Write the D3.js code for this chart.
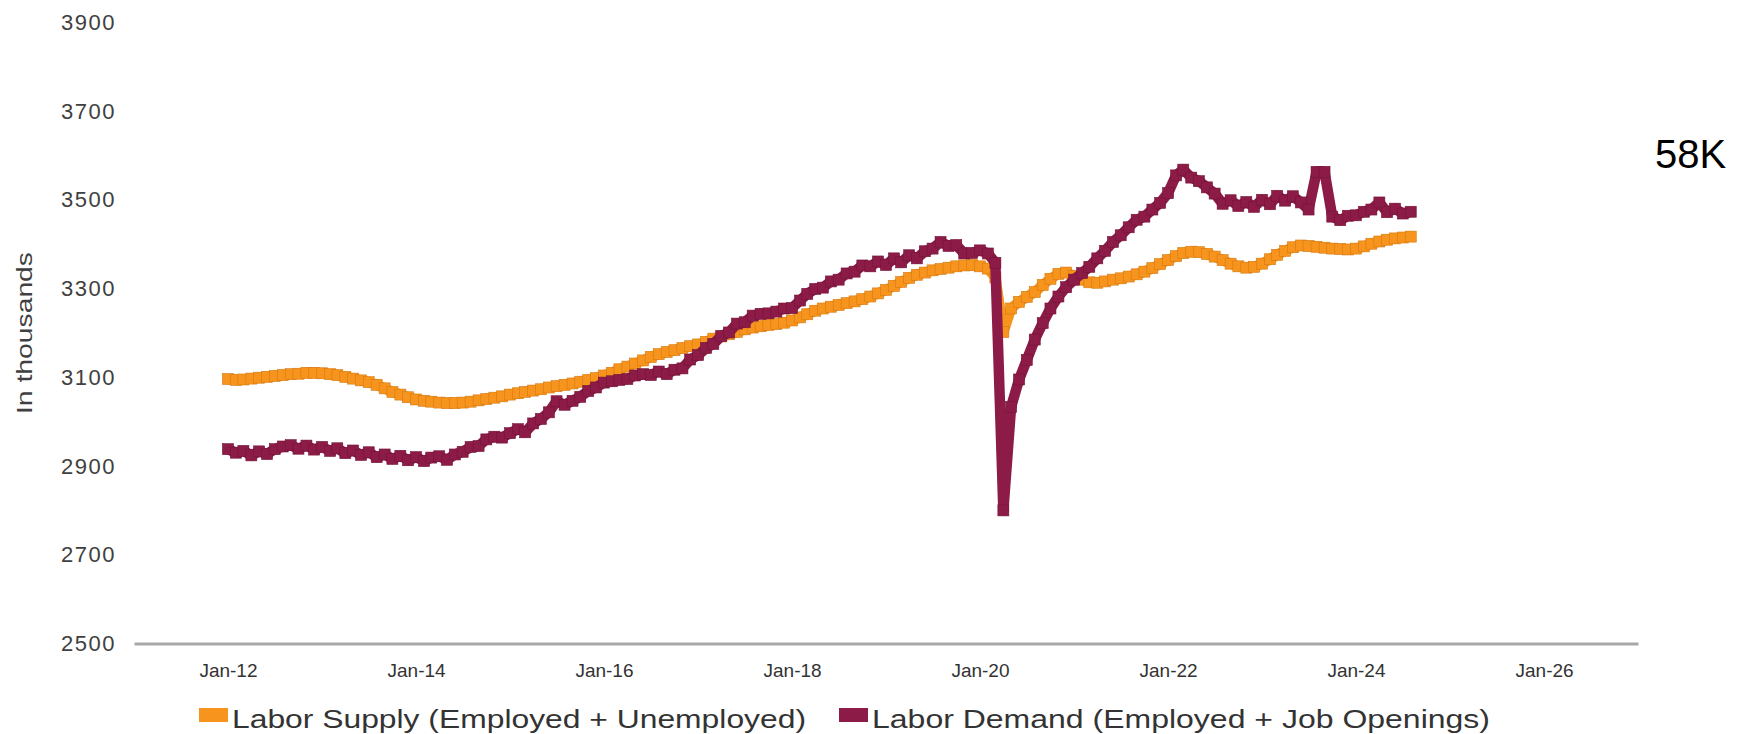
<!DOCTYPE html>
<html>
<head>
<meta charset="utf-8">
<script src="https://cdn.jsdelivr.net/npm/d3@7"></script>
<style>
  body { margin: 0; background: #fff; }
  svg { display: block; }
</style>
</head>
<body>
<div id="chart"></div>
<script>
// labor supply vs labor demand, monthly from Jan-12 (in thousands)

var startMonth = new Date(2012, 0, 1);

var supply = [
    3096, 3094, 3095, 3097, 3099, 3101, 3103, 3105, 3107, 3108, 3110, 3110,
    3109, 3107, 3105, 3101, 3097, 3093, 3089, 3083, 3075, 3067, 3061, 3055,
    3050, 3047, 3045, 3043, 3042, 3042, 3043, 3045, 3048, 3051, 3054, 3057,
    3061, 3064, 3067, 3070, 3073, 3077, 3080, 3083, 3086, 3090, 3094, 3098,
    3104, 3110, 3118, 3124, 3131, 3138, 3146, 3152, 3157, 3161, 3166, 3170,
    3174, 3180, 3187, 3192, 3197, 3202, 3208, 3212, 3215, 3218, 3220, 3223,
    3228, 3235, 3242, 3250, 3255, 3259, 3263, 3267, 3271, 3276, 3282, 3289,
    3297, 3306, 3315, 3324, 3331, 3336, 3341, 3344, 3347, 3350, 3352, 3353,
    3350, 3345, 3325, 3202, 3255, 3270, 3281, 3292, 3308, 3322, 3333, 3336,
    3328, 3320, 3314, 3313, 3316, 3320, 3323, 3327, 3332, 3338, 3346, 3355,
    3364, 3373, 3380, 3383, 3382, 3378, 3372, 3364, 3356, 3350, 3347, 3349,
    3356, 3366, 3376, 3385, 3393, 3397, 3396, 3394, 3392, 3390, 3389, 3388,
    3390, 3395, 3401, 3406, 3410, 3413, 3415, 3417
];

var demand = [
    2938, 2930, 2934, 2924, 2933, 2927, 2938, 2944, 2947, 2939, 2946, 2937,
    2943, 2934, 2940, 2929, 2935, 2925, 2931, 2920, 2926, 2916, 2923, 2913,
    2920, 2911, 2919, 2922, 2914, 2926, 2932, 2943, 2945, 2960, 2966, 2964,
    2974, 2983, 2976, 2996, 3006, 3021, 3046, 3038, 3047, 3056, 3069, 3077,
    3088, 3091, 3094, 3096, 3104, 3107, 3105, 3113, 3107, 3117, 3120, 3140,
    3150, 3166, 3175, 3193, 3201, 3221, 3224, 3239, 3243, 3244, 3248, 3255,
    3256, 3273, 3288, 3299, 3302, 3316, 3320, 3334, 3338, 3352, 3350, 3361,
    3353, 3368, 3359, 3375, 3368, 3384, 3390, 3405, 3396, 3398, 3379, 3380,
    3386, 3379, 3358, 2800, 3033, 3095, 3139, 3185, 3222, 3255, 3282, 3303,
    3320, 3335, 3349, 3368, 3385, 3405, 3420, 3438, 3455, 3462, 3478, 3493,
    3515, 3555, 3568, 3550, 3542, 3528, 3514, 3491, 3499, 3486, 3495, 3484,
    3500, 3490, 3509, 3498, 3508, 3494, 3478, 3563, 3563, 3462, 3454, 3464,
    3465, 3473, 3478, 3494, 3472, 3480, 3469, 3473
];

var yTicks = [2500, 2700, 2900, 3100, 3300, 3500, 3700, 3900];
var xTickYears = [2012, 2014, 2016, 2018, 2020, 2022, 2024, 2026];
var seriesNames = ["Labor Supply (Employed + Unemployed)",
                   "Labor Demand (Employed + Job Openings)"];
var seriesColors = ["#f7941d", "#8c1b47"];
var yTitle = "In thousands";
var sideNote = "58K";

var width = 1752, height = 734;

var svg = d3.select("#chart")
    .append("svg")
    .attr("width", width)
    .attr("height", height);

var x = d3.scaleTime()
    .domain([new Date(2011, 0, 1), new Date(2027, 0, 1)])
    .range([134, 1638]);

var y = d3.scaleLinear()
    .domain([2500, 3900])
    .range([643.5, 22.3]);

function monthOf(i) {
    return d3.timeMonth.offset(startMonth, i);
}

// x axis
var xAxis = svg.append("g")
    .attr("transform", "translate(0,643.5)")
    .call(d3.axisBottom(x)
        .tickValues(xTickYears.map(function(yr) { return new Date(yr, 0, 1); }))
        .tickSize(0)
        .tickPadding(20)
        .tickFormat(d3.timeFormat("%b-%y")));
xAxis.select(".domain")
    .attr("stroke", "#a8a8a8")
    .attr("stroke-width", 3);
xAxis.selectAll("text")
    .attr("font-family", "Liberation Sans, Arial, sans-serif")
    .attr("font-size", "19px")
    .attr("fill", "#333");

// y axis, labels only
var yAxis = svg.append("g")
    .attr("transform", "translate(116,0)")
    .call(d3.axisLeft(y)
        .tickValues(yTicks)
        .tickSize(0)
        .tickPadding(0)
        .tickFormat(d3.format("d")));
yAxis.select(".domain").remove();
yAxis.selectAll("text")
    .attr("font-family", "Liberation Sans, Arial, sans-serif")
    .attr("font-size", "22px")
    .attr("letter-spacing", "1.5px")
    .attr("fill", "#404040");

svg.append("text")
    .attr("transform", "translate(32,333) rotate(-90)")
    .attr("text-anchor", "middle")
    .attr("font-family", "Liberation Sans, Arial, sans-serif")
    .attr("font-size", "22px")
    .attr("fill", "#404040")
    .attr("textLength", 162)
    .attr("lengthAdjust", "spacingAndGlyphs")
    .text(yTitle);

// series
var line = d3.line()
    .x(function(d, i) { return x(monthOf(i)); })
    .y(function(d) { return y(d); });

[supply, demand].forEach(function(values, k) {
    var g = svg.append("g");
    g.append("path")
        .datum(values)
        .attr("d", line)
        .attr("fill", "none")
        .attr("stroke", seriesColors[k])
        .attr("stroke-width", 10.5)
        .attr("stroke-linejoin", "round");
    g.selectAll("rect")
        .data(values)
        .enter()
        .append("rect")
        .attr("x", function(d, i) { return x(monthOf(i)) - 5.5; })
        .attr("y", function(d) { return y(d) - 5.5; })
        .attr("width", 11)
        .attr("height", 11)
        .attr("fill", seriesColors[k])
        .attr("stroke", k == 0 ? "#d67a12" : "#761539")
        .attr("stroke-width", 0.6);
});

// legend
var legendX = [199, 839];
var legendLen = [574, 618];
seriesNames.forEach(function(name, k) {
    svg.append("rect")
        .attr("x", legendX[k])
        .attr("y", 708)
        .attr("width", 29)
        .attr("height", 14)
        .attr("fill", seriesColors[k]);
    svg.append("text")
        .attr("x", legendX[k] + 33)
        .attr("y", 728)
        .attr("font-family", "Liberation Sans, Arial, sans-serif")
        .attr("font-size", "25px")
        .attr("fill", "#333")
        .attr("textLength", legendLen[k])
        .attr("lengthAdjust", "spacingAndGlyphs")
        .text(name);
});

svg.append("text")
    .attr("x", 1655)
    .attr("y", 168)
    .attr("font-family", "Liberation Sans, Arial, sans-serif")
    .attr("font-size", "40px")
    .attr("fill", "#000")
    .text(sideNote);
</script>
</body>
</html>
